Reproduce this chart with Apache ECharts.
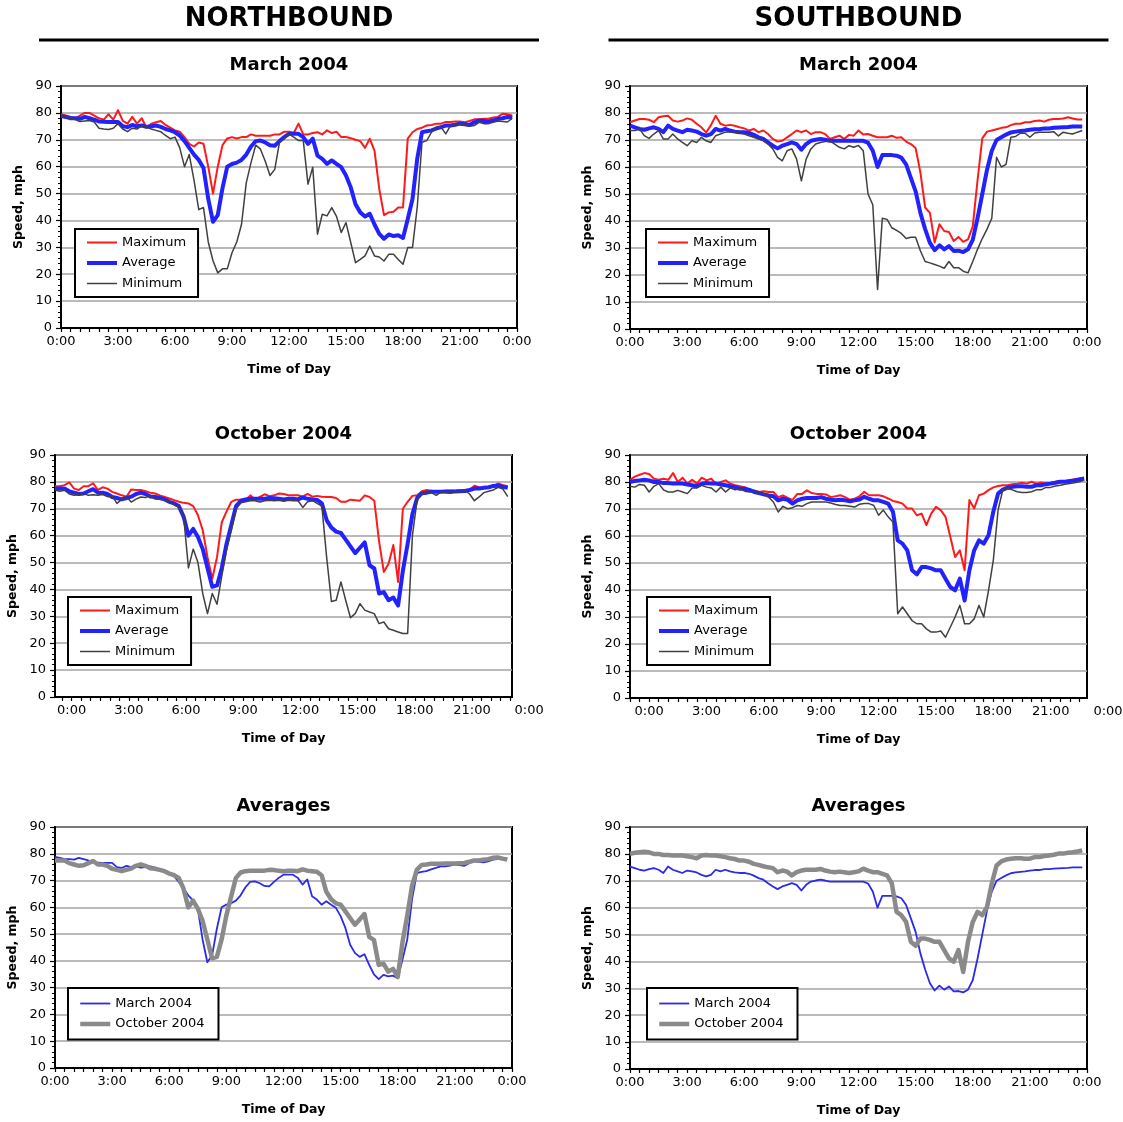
<!DOCTYPE html>
<html><head><meta charset="utf-8">
<script src="https://cdn.jsdelivr.net/npm/echarts@6.0.0/dist/echarts.min.js"></script>
<style>html,body{margin:0;padding:0;background:#fff}#c{width:1123px;height:1122px}</style>
</head><body><div id="c"></div><script>
const FONT = '"DejaVu Sans", "Liberation Sans", Arial, sans-serif';
const SAMPLE_HOURS = 0.25; // one sample every 15 minutes
const X_LABEL_HOURS = [0, 3, 6, 9, 12, 15, 18, 21, 24];
const HEADERS = ['NORTHBOUND', 'SOUTHBOUND'];
const TITLES = ['March 2004', 'March 2004', 'October 2004', 'October 2004', 'Averages', 'Averages'];
const LEGEND_3 = ['Maximum', 'Average', 'Minimum'];
const LEGEND_2 = ['March 2004', 'October 2004'];

// ---- Northbound, March 2004 (0:00 .. 23:45, one row per hour) ----
const nbMarMax = [
79.5,79,78.5,78, 79,80,80,79, 78,77.5,79.5,77.5, 81,77,76,78.5,
76,78,74.5,76, 76.5,77,75.5,74.5, 73.5,73,71,68.5, 67.5,69,68.5,60,
50,60,68,70.5, 71,70.5,71,71, 72,71.5,71.5,71.5, 71.5,72,72,73,
73,72.5,76,72, 72,72.5,72.8,72, 73.5,72.5,73,71, 71,70.6,70,69.5,
67,70.4,66,51.7, 42,43,43.2,44.8, 44.8,70.4,72.8,74, 74.5,75.3,75.5,76,
76,76.6,76.6,76.8, 76.8,76.5,77,77.6, 77.6,77.8,77.8,78.3, 78.5,79.7,79.5,79];
const nbMarAvg = [
78.8,78.5,78,78, 77.8,78.5,78,77.5, 76.8,76.7,76.6,76.6, 76.6,75,74.7,75.5,
75,75.3,74.8,75, 75.3,74.8,74,73.5, 72.8,71.6,69.5,67, 64.5,62.5,59.5,48,
39.5,42,52,60, 61,61.5,62.5,64.5, 67.5,69.5,69.7,69, 68,67.8,69.5,71,
72.2,72.2,72.2,71, 68.5,70.4,64.1,62.9, 61,62.3,61,59.8, 56.7,52.3,46,43,
41.5,42.5,38.5,35, 33.2,34.8,34.2,34.5, 33.5,40.5,48,63, 72.8,73.2,73.5,74.2,
74.7,75.3,75.3,75.6, 76,75.8,75.5,76.5, 77.2,77,76.8,77.2, 77.8,78,78.5,78.2];
const nbMarMin = [
79,78.5,77.8,77.5, 76.8,77,77.2,76.6, 74.3,74,73.8,74.3, 76,74,73,74.3,
74,75.3,74.7,74, 73.5,73,71.6,70.4, 71,67,60,64.5, 55,44,44.8,32,
25,20.5,22,22, 28,32,38.5,54, 61.5,68,66.5,62, 56.7,59,69,70.4,
72.2,71,69.7,69.7, 53.5,59.8,34.9,42.3, 41.7,44.8,41.5,35.5, 39.2,31.8,24.3,25.5,
26.8,30.5,26.8,26.4, 24.9,27.4,27.4,25.5, 23.7,29.9,29.9,45, 69.1,69.7,72.8,74.7,
74.7,72.2,75.3,75.5, 76,75.5,75,75.3, 76.5,76,76,76.5, 77,76.8,76.6,78];

// ---- Southbound, March 2004 ----
const sbMarMax = [
76.6,77.2,77.8,77.8, 77.5,76.6,78.4,78.8, 79,77.2,76.8,77.2, 78,77.5,76,74.7,
72.8,75.5,79,76, 75.3,75.6,75.3,74.7, 74.3,73.5,74.1,72.9, 73.5,72.2,70.4,69.4,
69.7,71,72.2,73.5, 72.9,73.5,72.2,72.9, 72.9,72.2,70.4,71, 71.6,70.4,71.9,71.6,
73.5,72,72.2,71.6, 71,71,71,71.6, 70.8,71,69.4,68.5, 67,58,45,43,
32,38.8,36.3,35.9, 32.6,34.1,32.3,33.2, 38,55,70.6,73.1, 73.5,74,74.5,74.7,
75.5,76,76,76.6, 76.6,77,77.2,76.8, 77.5,77.8,77.8,78, 78.4,78,77.6,77.6];
const sbMarAvg = [
75.3,74.7,74.1,73.8, 74.3,74.7,74.1,72.9, 75.3,74.1,73.5,72.9, 73.8,73.5,73.1,72.2,
71.6,72.2,74.1,73.5, 74.1,73.5,73.1,72.9, 72.9,72.6,71.9,71, 70.4,69.1,67.9,66.9,
67.9,68.5,69.1,68.5, 66.4,68.5,69.7,70.1, 70.4,70.1,69.7,69.7, 69.7,69.7,69.7,69.7,
69.7,69.7,69,66, 60,64.4,64.4,64.4, 64.2,63.5,61,56, 51,43,37,31.9,
29.2,31,29.5,30.7, 28.9,29,28.5,29.5, 33,41,50,59, 66,70,71,72,
72.8,73.1,73.3,73.5, 73.8,74,74,74.3, 74.3,74.5,74.6,74.7, 74.8,75,75,75];
const sbMarMin = [
73.5,73.5,74.1,71.6, 70.6,72.2,73.5,70.4, 70.4,72.2,70.4,69.1, 67.9,69.7,69.1,71,
69.7,69.1,71.6,72.2, 72.9,73.1,72.9,72.6, 72.2,71.6,71,70.4, 69.7,68.5,66.7,63.6,
62.3,66,66.7,62.9, 54.9,62.9,66.7,68.5, 69.1,69.4,69.7,68.5, 67.3,66.7,67.9,67.3,
68,66,50,46, 14.6,41,40.6,37.5, 36.5,35.4,33.5,34, 34,29,25,24.5,
23.9,23.3,22.5,25, 22.7,22.7,21.4,20.8, 25,29.5,33.5,37, 41,63.6,60,61,
71,71.3,72.5,72.5, 71,72.6,72.9,72.9, 72.9,73.1,71.5,72.9, 72.5,72.2,72.9,73.5];

// ---- Northbound, October 2004 ----
const nbOctMax = [
78.4,78.4,78.8,79.8, 77.5,77,78.4,78.4, 79.5,77,78,77.5, 76.3,75.7,75,74.5,
77.2,77,77,76.5, 76,75.7,75,74.4, 73.8,73.2,72.6,72.2, 72,71,67.6,62,
52,44,52,65, 69,72.6,73.4,73.4, 73.2,75,73.4,74.4, 75.4,74.7,75,75.7,
75.5,75,75,75, 74.5,75.5,74.5,74.8, 74.5,74.4,74.4,74, 72.6,72.6,73.4,73.2,
73,75,74.4,73, 58,46.5,49.6,56.5, 42.8,70,72.6,74.8, 75,76.5,77,76.7,
76.5,76.2,76.7,76.7, 76.7,76.9,77,77, 78.6,78,77.8,78, 78.5,79.4,78.8,78.4];
const nbOctAvg = [
77.5,77.5,77.5,76.5, 76,75.5,75.7,76.5, 77.3,76,76,75.5, 74.4,74,73.5,74,
74.5,75.5,76,75.5, 74.6,74.4,74,73.5, 72.6,72,71,67, 60,62.5,59.5,55,
48,41,41.5,48, 57,64,71,73, 73.5,73.7,73.7,73.7, 73.7,74,73.9,73.7,
73.5,73.7,73.7,73.5, 74.2,73.7,73.5,73.3, 72,65.8,63,61.5, 61,58.5,56,53.5,
55.5,57.5,49,47.8, 38.5,39,36,37, 34,47,57,68, 74,75.8,76,76.3,
76.3,76.3,76.4,76.4, 76.4,76.5,76.6,77, 77.5,77.5,77.8,78, 78.5,78.6,78.2,77.8];
const nbOctMin = [
77,76.5,76.9,75.5, 75,75.2,75.7,75, 75.2,75,75.3,74.5, 74.8,72,73.5,74.4,
72.5,73.6,74.4,74.2, 75,73.6,73.5,73.4, 72.8,71.5,70.5,67, 48,55,50,38.5,
31,38.5,34.5,45, 54.6,62,70,72.2, 72.6,73,73,72.5, 73,73.2,73,73.2,
72.8,73.2,73,73, 70.5,72.6,73,72, 71,52,35.5,36, 42.8,36,29.5,31,
34.7,32.3,31.6,31, 27.3,27.9,25.4,24.8, 24.2,23.6,23.6,60, 73.5,75.5,76.5,76,
75,76.3,76,75.8, 76.2,76.2,76.8,75.5, 73,74.4,76,76.5, 77,78,77.3,74.5];

// ---- Southbound, October 2004 ----
const sbOctMax = [
80.8,82,82.7,83.3, 83,81.2,80.8,81.2, 80.8,83.3,80,81.6, 79.4,80.8,79.4,81.6,
80.6,81.2,79.4,80, 80.6,79.4,78.8,78.4, 78.1,77.1,76.9,76.3, 76.6,76.3,76.3,74.4,
75,74.1,73.4,75.6, 75.6,76.9,75.9,75.6, 75.6,75.4,74.4,74.7, 75.1,74.4,73.4,73.8,
74.7,76.4,75.1,75.1, 75.1,74.7,73.9,73, 72.6,72,70.2,70.2, 67.7,68.3,64,68.3,
70.8,69.6,67.1,59.7, 52.2,54.7,47.3,73.3, 70.2,75.1,75.7,77, 78,78.5,78.8,78.8,
79.2,79.4,79.7,79.4, 80.1,79.4,79.8,79.4, 79.7,80.1,80.4,80.1, 80.6,81,81.3,81.6];
const sbOctAvg = [
80,80.4,80.6,80.8, 80.6,80,80,79.6, 79.6,79.4,79.4,79.4, 79.1,78.8,78.4,79.4,
79.6,79.4,79.4,79.1, 78.8,78.4,78.1,77.5, 77.5,77.1,76.3,75.9, 75.4,75,74.7,73.2,
73.8,73.4,72,73.2, 73.8,74.1,74.1,74.1, 74.4,73.8,73.4,73.2, 73.4,73.2,72.9,73.2,
73.5,74.5,73.8,73.2, 73.2,72.6,72,69, 58.4,57.2,54.7,47.3, 45.8,48.5,48.5,48,
47.3,47.3,44.2,41.1, 39.9,44.2,36.1,47.3, 54.7,58.4,57.2,60.3, 69,75.7,77.2,77.9,
78.2,78.4,78.4,78.2, 78.2,78.8,78.8,79.2, 79.4,79.7,80.1,80.1, 80.4,80.6,80.9,81.3];
const sbOctMin = [
78.4,78.1,79.1,78.8, 76.3,78.4,79.4,77.1, 76.3,76.3,76.9,76.3, 75.7,77.8,77.8,78.8,
78.1,77.8,76.3,78.1, 76.3,77.8,77.1,77.5, 76.6,76.3,76.6,75.9, 75.7,74.4,72.6,68.9,
71,70.1,70.5,71.3, 71,72,72.6,72.6, 72.6,72.6,72.2,71.7, 71.3,71.3,71,70.7,
71.8,72,72,71.3, 67.7,69.6,67.1,65.2, 31.2,33.7,31.2,28.7, 27.5,27.5,25.6,24.4,
24.4,24.8,22.5,26.2, 30,34.3,27.5,27.5, 29.3,34.3,30,39.9, 51,69.6,77.2,77.6,
77.1,76.4,76.1,76.1, 76.4,77.1,77.1,78, 78,78.5,78.8,79.2, 79.4,79.7,80.1,80.7];

// ---- styles ----
const STYLE = {
  max: {color: '#ff1a1a', width: 2},
  avg: {color: '#2222ff', width: 4},
  min: {color: '#404040', width: 1.5},
  mar: {color: '#2b2be8', width: 1.8},
  oct: {color: '#8a8a8a', width: 4.5}
};
const STYLE_OF_NAME_3 = {'Maximum': 'max', 'Average': 'avg', 'Minimum': 'min'};
const STYLE_OF_NAME_2 = {'March 2004': 'mar', 'October 2004': 'oct'};

const panels = [
  {grid: {left: 61, top: 86, width: 456, height: 242}, xMin: 0, xMax: 24, shift: 0, yNameGap: 36,
   lines: [['Maximum', nbMarMax, 'max'], ['Average', nbMarAvg, 'avg'], ['Minimum', nbMarMin, 'min']],
   legend: {left: 75, top: 229, data: LEGEND_3, styles: STYLE_OF_NAME_3, padding: [7, 12, 7, 10]}},
  {grid: {left: 630, top: 86, width: 457, height: 243}, xMin: 0, xMax: 24, shift: 0, yNameGap: 36,
   lines: [['Maximum', sbMarMax, 'max'], ['Average', sbMarAvg, 'avg'], ['Minimum', sbMarMin, 'min']],
   legend: {left: 646, top: 229, data: LEGEND_3, styles: STYLE_OF_NAME_3, padding: [7, 12, 7, 10]}},
  {grid: {left: 55, top: 455, width: 457, height: 242}, xMin: -0.875, xMax: 23.1, shift: -0.875, yNameGap: 36,
   lines: [['Maximum', nbOctMax, 'max'], ['Average', nbOctAvg, 'avg'], ['Minimum', nbOctMin, 'min']],
   legend: {left: 68, top: 597, data: LEGEND_3, styles: STYLE_OF_NAME_3, padding: [7, 12, 7, 10]}},
  {grid: {left: 630, top: 455, width: 457, height: 243}, xMin: -1.0, xMax: 22.9, shift: -1.0, yNameGap: 36,
   lines: [['Maximum', sbOctMax, 'max'], ['Average', sbOctAvg, 'avg'], ['Minimum', sbOctMin, 'min']],
   legend: {left: 647, top: 597, data: LEGEND_3, styles: STYLE_OF_NAME_3, padding: [7, 12, 7, 10]}},
  {grid: {left: 55, top: 827, width: 457, height: 241}, xMin: 0, xMax: 24, shift: 0, yNameGap: 36,
   lines: [['March 2004', nbMarAvg, 'mar'], ['October 2004', nbOctAvg, 'oct']],
   legend: {left: 68, top: 988, data: LEGEND_2, styles: STYLE_OF_NAME_2, padding: [9, 14, 9, 10]}},
  {grid: {left: 630, top: 827, width: 457, height: 242}, xMin: 0, xMax: 24, shift: 0, yNameGap: 36,
   lines: [['March 2004', sbMarAvg, 'mar'], ['October 2004', sbOctAvg, 'oct']],
   legend: {left: 647, top: 988, data: LEGEND_2, styles: STYLE_OF_NAME_2, padding: [9, 14, 9, 10]}}
];

const fmtHour = v => (Math.round(v) % 24) + ':00';

const grids = [], xAxes = [], yAxes = [], series = [], legends = [], graphics = [];
panels.forEach((p, k) => {
  grids.push(Object.assign({show: true, borderColor: '#000', borderWidth: 2, backgroundColor: 'transparent'}, p.grid));
  const tickVals = [];
  for (let h = Math.ceil(p.xMin * 2) / 2; h <= p.xMax + 1e-9; h += 0.5) tickVals.push(h);
  const labelVals = X_LABEL_HOURS.filter(h => h >= p.xMin - 1e-9 && h <= p.xMax + 1e-9);
  xAxes.push({
    gridIndex: k, type: 'value', min: p.xMin, max: p.xMax,
    name: 'Time of Day', nameLocation: 'middle', nameGap: 35,
    nameTextStyle: {fontFamily: FONT, fontWeight: 'bold', fontSize: 12.5, color: '#000'},
    axisLine: {show: true, onZero: false, lineStyle: {color: '#000', width: 2}},
    axisTick: {show: true, customValues: tickVals, length: 4, lineStyle: {color: '#000', width: 1.2}},
    axisLabel: {show: true, customValues: labelVals, formatter: fmtHour, margin: 7,
                fontFamily: FONT, fontSize: 13, color: '#000'},
    splitLine: {show: false}
  });
  yAxes.push({
    gridIndex: k, type: 'value', min: 0, max: 90, interval: 10,
    name: 'Speed, mph', nameLocation: 'middle', nameGap: p.yNameGap, nameRotate: 90,
    nameTextStyle: {fontFamily: FONT, fontWeight: 'bold', fontSize: 12.5, color: '#000'},
    axisLine: {show: true, onZero: false, lineStyle: {color: '#000', width: 2}},
    axisTick: {show: true, length: 5, lineStyle: {color: '#000', width: 1.2}},
    minorTick: {show: true, splitNumber: 5, length: 3, lineStyle: {color: '#000', width: 1}},
    axisLabel: {margin: 9, fontFamily: FONT, fontSize: 13, color: '#000'},
    splitLine: {show: true, lineStyle: {color: '#a3a3a3', width: 1.5}}
  });
  p.lines.forEach(([name, vals, st]) => {
    series.push({
      type: 'line', name, xAxisIndex: k, yAxisIndex: k,
      data: vals.map((v, i) => [i * SAMPLE_HOURS + p.shift, v]),
      symbol: 'none', showSymbol: false, clip: true, animation: false,
      lineStyle: {color: STYLE[st].color, width: STYLE[st].width, join: 'round'},
      itemStyle: {color: STYLE[st].color}
    });
  });
  legends.push({
    left: p.legend.left, top: p.legend.top, orient: 'vertical',
    data: p.legend.data.map(n => {
      const s = STYLE[p.legend.styles[n]];
      return {name: n, itemStyle: {opacity: 0},
              lineStyle: {color: s.color, width: s.width, opacity: 1}};
    }),
    padding: p.legend.padding, itemWidth: 30, itemHeight: 14, itemGap: 7.5,
    borderColor: '#000', borderWidth: 2, backgroundColor: '#fff', selectedMode: false,
    itemStyle: {opacity: 0},
    textStyle: {fontFamily: FONT, fontSize: 13, color: '#000'}
  });
  const g = p.grid;
  graphics.push({
    type: 'text', x: g.left + g.width / 2, y: g.top - 21, z: 10,
    style: {text: TITLES[k], fill: '#000', font: 'bold 18px ' + FONT,
            align: 'center', verticalAlign: 'middle', textAlign: 'center', textVerticalAlign: 'middle'}
  });
});

// column headers with underline
[[panels[0].grid, HEADERS[0]], [panels[1].grid, HEADERS[1]]].forEach(([g, txt]) => {
  const cx = g.left + g.width / 2;
  graphics.push({
    type: 'text', x: cx, y: 19, z: 10,
    style: {text: txt, fill: '#000', font: 'bold 26px ' + FONT,
            align: 'center', verticalAlign: 'middle', textAlign: 'center', textVerticalAlign: 'middle'}
  });
  graphics.push({
    type: 'line', z: 10, shape: {x1: cx - 250, y1: 40, x2: cx + 250, y2: 40},
    style: {stroke: '#000', lineWidth: 3}
  });
});

const chart = echarts.init(document.getElementById('c'), null, {renderer: 'canvas'});
chart.setOption({
  animation: false, backgroundColor: '#fff',
  grid: grids, xAxis: xAxes, yAxis: yAxes, series, legend: legends, graphic: graphics
});

// tick labels that Excel placed past the right end of the shifted axes
const extra = [];
panels.forEach((p, k) => {
  X_LABEL_HOURS.forEach(h => {
    if (h > p.xMax + 1e-9) {
      const pt = chart.convertToPixel({gridIndex: k}, [h, 0]);
      extra.push({
        type: 'text', x: pt[0], y: pt[1] + 7, z: 10,
        style: {text: fmtHour(h), fill: '#000', font: '13px ' + FONT,
                align: 'center', verticalAlign: 'top', textAlign: 'center', textVerticalAlign: 'top'}
      });
    }
  });
});
chart.setOption({graphic: graphics.concat(extra)});
</script></body></html>
